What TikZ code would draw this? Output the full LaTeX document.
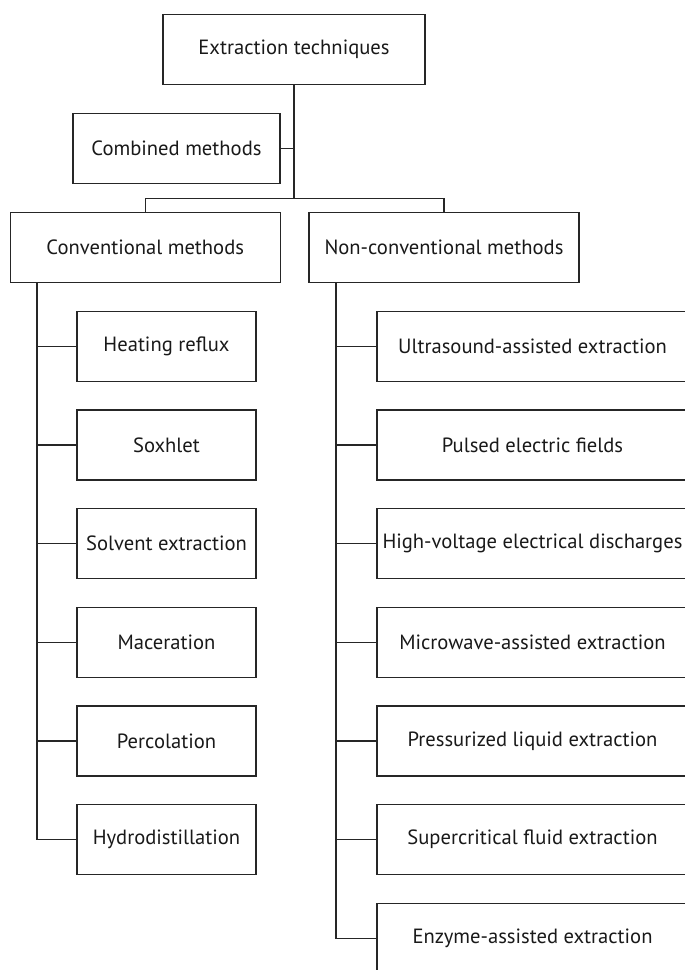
\documentclass[tikz,border=0pt]{standalone}
\usepackage{fontspec}
\setmainfont{PT Sans}
\begin{document}
\begin{tikzpicture}[x=0.5pt,y=-0.5pt,
  every node/.style={font=\fontsize{10.3}{12}\selectfont,text=black!90},
  box/.style={draw=black!85,line width=0.65pt,minimum height=35pt,inner sep=0pt},
  link/.style={draw=black!85,line width=0.65pt}]
  \useasboundingbox (0,0) rectangle (685,970);
  \node[box,minimum width=131pt] (top) at (294,49.5) {Extraction techniques};
  \node[box,minimum width=103.5pt] (comb) at (176.5,148.5) {Combined methods};
  \node[box,minimum width=135pt] (conv) at (145.25,247.5) {Conventional methods};
  \node[box,minimum width=135pt] (nonconv) at (444,247.5) {Non-conventional methods};
  \coordinate (split) at (294,198.3);
  \coordinate (ltrunk) at (37,282.3);
  \coordinate (rtrunk) at (336,282.3);

  \draw[link] (top) -- (split);
  \draw[link] (comb.east) -- (comb.east -| split);
  \draw[link] (split) -| (conv.north);
  \draw[link] (split) -| (nonconv.north);

  % conventional
  \foreach \name/\txt [count=\i from 0] in {heat/Heating reflux,soxh/Soxhlet,solv/Solvent extraction,
      macer/Maceration,percol/Percolation,hydro/Hydrodistillation}
    \node[box,minimum width=89.5pt] (\name) at (166.5,{346.2+98.7*\i}) {\txt};
  \draw[link] (ltrunk) |- (hydro.west);
  \foreach \name in {heat,soxh,solv,macer,percol}
    \draw[link] (\name.west) -- (\name.west -| ltrunk);

  % non-conventional
  \foreach \name/\txt [count=\i from 0] in {ultra/Ultrasound-assisted extraction,pef/Pulsed electric fields,
      hved/High-voltage electrical discharges,micro/Microwave-assisted extraction,
      ple/Pressurized liquid extraction,sfe/Supercritical fluid extraction,enzyme/Enzyme-assisted extraction}
    \node[box,minimum width=155.5pt] (\name) at (532.5,{346.2+98.7*\i}) {\txt};
  \draw[link] (rtrunk) |- (enzyme.west);
  \foreach \name in {ultra,pef,hved,micro,ple,sfe}
    \draw[link] (\name.west) -- (\name.west -| rtrunk);
\end{tikzpicture}
\end{document}
